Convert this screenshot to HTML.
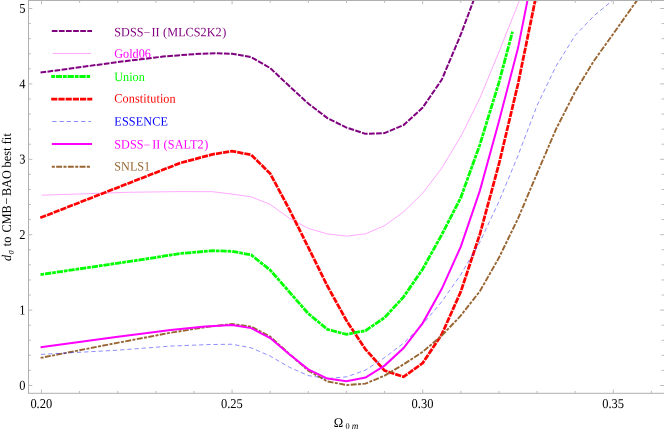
<!DOCTYPE html>
<html><head><meta charset="utf-8"><title>plot</title>
<style>
html,body{margin:0;padding:0;background:#fff;}
body{width:664px;height:430px;overflow:hidden;position:relative;font-family:"Liberation Serif",serif;}
svg{position:absolute;left:0;top:0;display:block;will-change:transform;}
text{font-family:"Liberation Serif",serif;}
</style></head><body>
<svg width="664" height="430" viewBox="0 0 664 430">
<defs><clipPath id="c"><rect x="29" y="0.5" width="635.5" height="392.5"/></clipPath></defs>
<rect x="0" y="0" width="664" height="430" fill="#ffffff"/>

<g fill="none" stroke-linecap="butt">
<path d="M51.80 31.07 L92.00 31.07" stroke="#800080" stroke-width="2.0" stroke-dasharray="5.7 1.4"/>
<path d="M52.80 53.50 L91.10 53.50" stroke="#ff00ff" stroke-width="0.34"/>
<path d="M51.20 76.50 L90.10 76.50" stroke="#00ff00" stroke-width="2.8" stroke-dasharray="3.7 0.9 6.3 0.9"/>
<path d="M51.20 99.00 L92.30 99.00" stroke="#ff0000" stroke-width="2.75" stroke-dasharray="6.2 1.0"/>
<path d="M52.30 121.50 L91.10 121.50" stroke="#0000ff" stroke-width="0.45" stroke-dasharray="4.3 2.9"/>
<path d="M51.80 144.10 L92.00 144.10" stroke="#ff00ff" stroke-width="2.0"/>
<path d="M51.80 166.80 L89.90 166.80" stroke="#996633" stroke-width="1.9" stroke-dasharray="3.0 1.4 5.9 1.4"/>
</g>
<text transform="translate(114.30 36.20) rotate(0.03) scale(0.9530 1)" font-size="12.8px" text-anchor="start" fill="#800080">SDSS<tspan dy="0.7">−</tspan><tspan dy="-0.7" dx="1.27">II </tspan><tspan dx="0.36">(</tspan><tspan dx="0.18">MLCS2K2</tspan><tspan dx="0.7">)</tspan></text>
<text transform="translate(114.30 57.80) rotate(0.03) scale(0.9530 1)" font-size="12.8px" text-anchor="start" fill="#ff00ff">Gold06</text>
<text transform="translate(114.30 80.90) rotate(0.03) scale(0.9530 1)" font-size="12.8px" text-anchor="start" fill="#00ff00">Union</text>
<text transform="translate(114.30 102.60) rotate(0.03) scale(0.9530 1)" font-size="12.8px" text-anchor="start" fill="#ff0000"><tspan letter-spacing="0.1">Constitution</tspan></text>
<text transform="translate(114.30 125.40) rotate(0.03) scale(0.9530 1)" font-size="12.8px" text-anchor="start" fill="#0000ff"><tspan letter-spacing="0.15">ESSENCE</tspan></text>
<text transform="translate(114.30 148.50) rotate(0.03) scale(0.9530 1)" font-size="12.8px" text-anchor="start" fill="#ff00ff">SDSS<tspan dy="0.7">−</tspan><tspan dy="-0.7" dx="1.9">II </tspan><tspan dx="0.1">(</tspan><tspan dx="0.3" letter-spacing="0.12">SALT2</tspan><tspan dx="0.5">)</tspan></text>
<text transform="translate(114.30 170.60) rotate(0.03) scale(0.9530 1)" font-size="12.8px" text-anchor="start" fill="#996633">SNLS1</text>
<g clip-path="url(#c)" fill="none" stroke-linejoin="miter" stroke-linecap="butt">
<path d="M40.50 72.60 L85.00 66.50 L130.00 60.50 L146.00 58.70 L163.00 56.60 L180.00 55.20 L200.00 53.75 L216.00 53.25 L232.00 53.80 L251.20 57.10 L270.20 68.10 L289.30 86.10 L308.30 103.60 L327.40 118.10 L346.50 127.60 L365.50 133.85 L384.60 133.10 L403.60 125.10 L422.70 107.60 L441.80 79.60 L460.80 34.50 L479.90 -16.50" stroke="#800080" stroke-width="2.0" stroke-dasharray="5.7 1.4"/>
<path d="M41.75 195.20 L78.00 194.00 L128.00 192.30 L180.00 191.60 L212.50 191.70 L232.00 194.10 L251.20 196.85 L270.20 204.40 L289.30 218.20 L308.30 228.40 L327.40 233.90 L346.50 236.10 L365.50 233.80 L384.60 225.60 L403.60 211.85 L422.70 193.10 L441.80 168.10 L460.80 136.50 L479.90 98.10 L498.90 52.10 L518.00 4.10 L537.00 -44.40" stroke="#ff00ff" stroke-width="0.34"/>
<path d="M40.30 217.80 L180.00 163.10 L212.50 154.35 L232.00 151.10 L251.20 154.85 L270.20 173.60 L289.30 209.35 L308.30 247.40 L327.40 286.00 L346.50 320.60 L365.50 349.35 L384.60 370.60 L403.60 376.85 L422.70 363.10 L441.80 334.35 L460.80 291.60 L479.90 234.10 L498.90 164.20 L518.00 84.00 L537.00 -8.50" stroke="#ff0000" stroke-width="2.75" stroke-dasharray="6.2 1.0"/>
<path d="M40.50 274.60 L146.00 259.00 L180.00 253.50 L212.50 250.70 L232.00 251.30 L251.20 254.90 L270.20 270.10 L289.30 291.85 L308.30 313.60 L327.40 329.35 L346.50 334.35 L365.50 330.60 L384.60 317.60 L403.60 296.90 L422.70 269.00 L441.80 234.60 L460.80 197.60 L479.90 144.60 L498.90 82.60 L512.50 31.60" stroke="#00ff00" stroke-width="2.8" stroke-dasharray="3.7 0.9 6.3 0.9"/>
<path d="M40.60 357.90 L116.00 343.10 L170.70 332.70 L205.00 327.20 L232.00 324.00 L251.20 326.60 L270.20 336.60 L289.30 353.90 L308.30 370.60 L327.40 381.40 L346.50 385.10 L365.50 383.60 L384.60 375.60 L403.60 364.35 L422.70 351.85 L441.80 335.60 L460.80 315.60 L479.90 291.20 L498.90 257.80 L518.00 218.60 L537.00 173.60 L556.10 129.00 L575.20 91.60 L594.20 60.40 L613.30 33.80 L632.40 6.80 L651.50 -19.40" stroke="#996633" stroke-width="1.9" stroke-dasharray="3.0 1.4 5.9 1.4"/>
<path d="M41.00 354.40 L116.00 350.30 L170.70 346.10 L207.50 344.60 L232.00 344.25 L251.20 347.85 L270.20 356.10 L289.30 367.20 L308.30 375.60 L327.40 378.60 L346.50 376.85 L365.50 370.10 L384.60 357.60 L403.60 343.10 L422.70 324.35 L441.80 301.60 L460.80 274.60 L479.90 242.00 L498.90 201.60 L518.00 155.60 L537.00 105.60 L556.10 66.10 L575.20 35.40 L594.20 15.60 L613.30 -0.20 L632.40 -13.40" stroke="#0000ff" stroke-width="0.45" stroke-dasharray="4.3 2.9"/>
<path d="M40.60 347.35 L116.00 337.00 L170.70 329.90 L205.00 326.50 L232.00 325.10 L251.20 328.10 L270.20 338.10 L289.30 354.35 L308.30 369.35 L327.40 378.60 L346.50 381.35 L365.50 377.60 L384.60 365.60 L403.60 348.10 L422.70 323.10 L441.80 288.80 L460.80 246.60 L479.90 190.60 L498.90 121.60 L518.00 48.10 L537.00 -47.40" stroke="#ff00ff" stroke-width="2.0"/>
</g>
<g stroke="#b0b0b0" stroke-width="1" fill="none" shape-rendering="auto">
<path d="M28.5 0.5 L28.5 393.4 M28 0.5 L664 0.5 M28 393.3 L664 393.3"/>
<path stroke="#bcbcbc" d="M41.50 393.3 L41.50 389.50 M41.50 0.5 L41.50 4.30 M79.62 393.3 L79.62 390.90 M79.62 0.5 L79.62 2.90 M117.74 393.3 L117.74 390.90 M117.74 0.5 L117.74 2.90 M155.86 393.3 L155.86 390.90 M155.86 0.5 L155.86 2.90 M193.98 393.3 L193.98 390.90 M193.98 0.5 L193.98 2.90 M232.10 393.3 L232.10 389.50 M232.10 0.5 L232.10 4.30 M270.22 393.3 L270.22 390.90 M270.22 0.5 L270.22 2.90 M308.34 393.3 L308.34 390.90 M308.34 0.5 L308.34 2.90 M346.46 393.3 L346.46 390.90 M346.46 0.5 L346.46 2.90 M384.58 393.3 L384.58 390.90 M384.58 0.5 L384.58 2.90 M422.70 393.3 L422.70 389.50 M422.70 0.5 L422.70 4.30 M460.82 393.3 L460.82 390.90 M460.82 0.5 L460.82 2.90 M498.94 393.3 L498.94 390.90 M498.94 0.5 L498.94 2.90 M537.06 393.3 L537.06 390.90 M537.06 0.5 L537.06 2.90 M575.18 393.3 L575.18 390.90 M575.18 0.5 L575.18 2.90 M613.30 393.3 L613.30 389.50 M613.30 0.5 L613.30 4.30 M651.42 393.3 L651.42 390.90 M651.42 0.5 L651.42 2.90 M28.5 385.50 L32.30 385.50 M664 385.50 L660.20 385.50 M28.5 370.42 L30.90 370.42 M664 370.42 L661.60 370.42 M28.5 355.34 L30.90 355.34 M664 355.34 L661.60 355.34 M28.5 340.26 L30.90 340.26 M664 340.26 L661.60 340.26 M28.5 325.18 L30.90 325.18 M664 325.18 L661.60 325.18 M28.5 310.10 L32.30 310.10 M664 310.10 L660.20 310.10 M28.5 295.02 L30.90 295.02 M664 295.02 L661.60 295.02 M28.5 279.94 L30.90 279.94 M664 279.94 L661.60 279.94 M28.5 264.86 L30.90 264.86 M664 264.86 L661.60 264.86 M28.5 249.78 L30.90 249.78 M664 249.78 L661.60 249.78 M28.5 234.70 L32.30 234.70 M664 234.70 L660.20 234.70 M28.5 219.62 L30.90 219.62 M664 219.62 L661.60 219.62 M28.5 204.54 L30.90 204.54 M664 204.54 L661.60 204.54 M28.5 189.46 L30.90 189.46 M664 189.46 L661.60 189.46 M28.5 174.38 L30.90 174.38 M664 174.38 L661.60 174.38 M28.5 159.30 L32.30 159.30 M664 159.30 L660.20 159.30 M28.5 144.22 L30.90 144.22 M664 144.22 L661.60 144.22 M28.5 129.14 L30.90 129.14 M664 129.14 L661.60 129.14 M28.5 114.06 L30.90 114.06 M664 114.06 L661.60 114.06 M28.5 98.98 L30.90 98.98 M664 98.98 L661.60 98.98 M28.5 83.90 L32.30 83.90 M664 83.90 L660.20 83.90 M28.5 68.82 L30.90 68.82 M664 68.82 L661.60 68.82 M28.5 53.74 L30.90 53.74 M664 53.74 L661.60 53.74 M28.5 38.66 L30.90 38.66 M664 38.66 L661.60 38.66 M28.5 23.58 L30.90 23.58 M664 23.58 L661.60 23.58 M28.5 8.50 L32.30 8.50 M664 8.50 L660.20 8.50"/>
</g>
<text transform="translate(41.30 407.90) rotate(0.03) scale(0.9250 1)" font-size="13.5px" text-anchor="middle" fill="#000">0.20</text>
<text transform="translate(231.90 407.90) rotate(0.03) scale(0.9250 1)" font-size="13.5px" text-anchor="middle" fill="#000">0.25</text>
<text transform="translate(422.50 407.90) rotate(0.03) scale(0.9250 1)" font-size="13.5px" text-anchor="middle" fill="#000">0.30</text>
<text transform="translate(613.10 407.90) rotate(0.03) scale(0.9250 1)" font-size="13.5px" text-anchor="middle" fill="#000">0.35</text>
<text transform="translate(25.50 389.80) rotate(0.03) scale(0.9250 1)" font-size="13.5px" text-anchor="end" fill="#000">0</text>
<text transform="translate(25.50 314.40) rotate(0.03) scale(0.9250 1)" font-size="13.5px" text-anchor="end" fill="#000">1</text>
<text transform="translate(25.50 239.00) rotate(0.03) scale(0.9250 1)" font-size="13.5px" text-anchor="end" fill="#000">2</text>
<text transform="translate(25.50 163.60) rotate(0.03) scale(0.9250 1)" font-size="13.5px" text-anchor="end" fill="#000">3</text>
<text transform="translate(25.50 88.20) rotate(0.03) scale(0.9250 1)" font-size="13.5px" text-anchor="end" fill="#000">4</text>
<text transform="translate(25.50 12.80) rotate(0.03) scale(0.9250 1)" font-size="13.5px" text-anchor="end" fill="#000">5</text>
<text transform="translate(333.70 427.00) rotate(0.03) scale(0.9500 1)" font-size="13.4px" text-anchor="start" fill="#000">Ω</text>
<text transform="translate(345.40 429.10) rotate(0.03) scale(0.9500 1)" font-size="8.8px" text-anchor="start" fill="#000">0</text>
<text transform="translate(351.70 429.10) rotate(0.03) scale(0.9800 1)" font-size="9.4px" text-anchor="start" fill="#000" font-style="italic">m</text>
<text transform="translate(11.00 261.00) rotate(-90.03) scale(0.9200 1)" font-size="13.3px" fill="#000" font-style="italic">d</text>
<text transform="translate(13.40 254.60) rotate(-90.03) scale(0.9200 1)" font-size="9.5px" fill="#000" font-style="italic">σ</text>
<text transform="translate(11.00 246.20) rotate(-90.03) scale(0.9200 1)" font-size="13.3px" fill="#000">to</text>
<text transform="translate(11.00 232.50) rotate(-90.03) scale(0.9200 1)" font-size="13.3px" fill="#000">CMB</text>
<text transform="translate(11.00 204.50) rotate(-90.03) scale(0.9200 1)" font-size="13.3px" fill="#000">−</text>
<text transform="translate(11.00 196.10) rotate(-90.03) scale(0.9200 1)" font-size="13.3px" fill="#000">BAO</text>
<text transform="translate(11.00 167.50) rotate(-90.03) scale(0.9200 1)" font-size="13.3px" fill="#000" letter-spacing="0.15">best</text>
<text transform="translate(11.00 144.35) rotate(-90.03) scale(0.9200 1)" font-size="13.3px" fill="#000" letter-spacing="0.15">fit</text>
</svg>
</body></html>
